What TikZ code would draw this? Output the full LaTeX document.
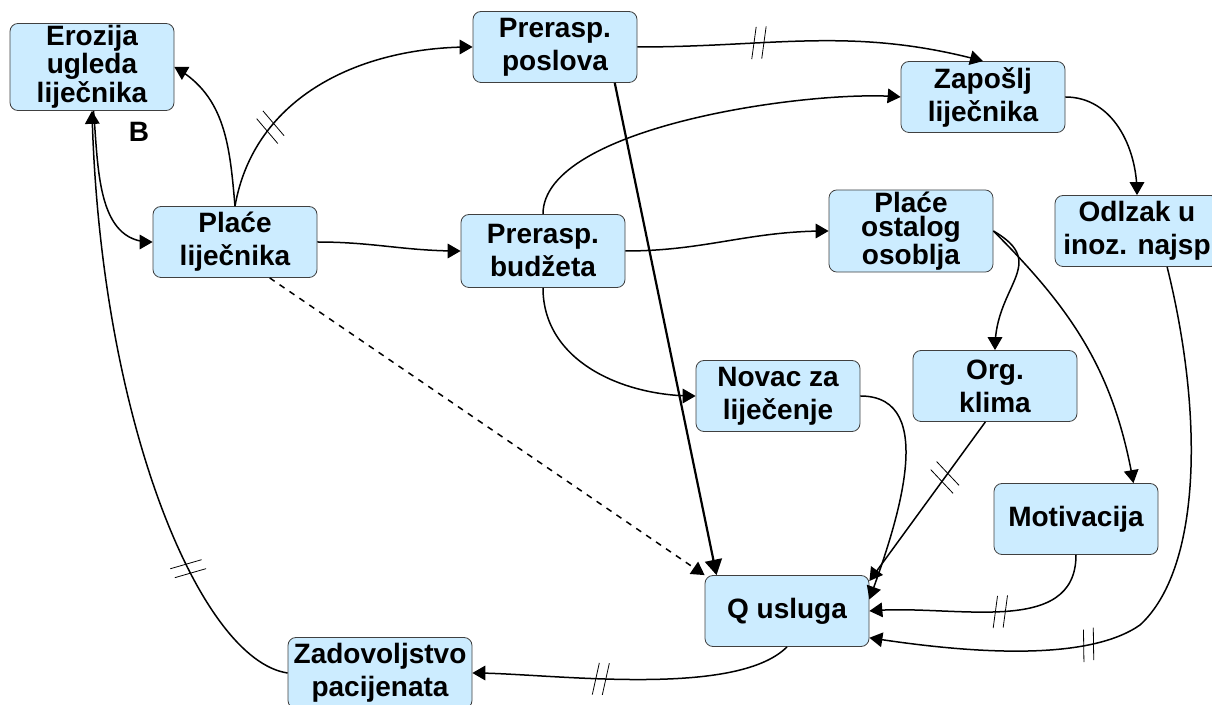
\documentclass[tikz,border=0pt]{standalone}
\usepackage{fontspec}
\setmainfont{Liberation Sans}
\usetikzlibrary{arrows,decorations.markings}
\definecolor{boxblue}{RGB}{204,236,255}

\begin{document}
\begin{tikzpicture}[x = 0.5pt, y = -0.5pt, >= triangle 60, line width = 0.75pt,
	box/.style = {draw = black!75, thin, fill = boxblue, rounded corners = 4pt, align = center,
		minimum width = 82pt, minimum height = 35.5pt, inner sep = 1pt,
		font = \bfseries\fontsize{14}{16.5}\selectfont},
	tight/.style = {font = \bfseries\fontsize{14}{11.8}\selectfont},
	delay/.style = {postaction = {decorate, decoration = {markings, mark = at position #1 with
		{\draw[line width = 0.4pt, -] (-4pt,-8pt) -- (-1pt,8pt) (1pt,-8pt) -- (4pt,8pt);}}}}]

	\useasboundingbox (0,0) rectangle (1212,705);

	\node (E)  at (  92,  67) [box, tight] {Erozija\\ugleda\\liječnika};
	\node (B)  at ( 139, 132) [font = \bfseries\fontsize{14}{14}\selectfont] {B};
	\node (PL) at ( 235, 242) [box] {Plaće\\liječnika};
	\node (PP) at ( 555,  47) [box] {Prerasp.\\poslova};
	\node (ZL) at ( 983,  97) [box] {Zapošlj\\liječnika};
	\node (PB) at ( 543, 251) [box, minimum height = 36.5pt] {Prerasp.\\budžeta};
	\node (PO) at ( 911, 231) [box, tight] {Plaće\\ostalog\\osoblja};
	\node (OI) at (1137, 231) [box] {Odlzak u\\inoz. najsp};
	\node (NL) at ( 778, 396) [box] {Novac za\\liječenje};
	\node (OK) at ( 995, 386) [box] {Org.\\klima};
	\node (M)  at (1076, 519) [box] {Motivacija};
	\node (Q)  at ( 787, 611) [box] {Q usluga};
	\node (ZP) at ( 380, 673) [box, minimum width = 92pt] {Zadovoljstvo\\pacijenata};

	\foreach \from/\o/\i/\to in {PL.north/95/-30/E.east, E.-88/-85/180/PL.west, PL.east/0/180/PB.west,
	PB.east/0/180/PO.west, PB.south/-90/180/NL.west, ZL.east/0/90/OI.north, NL.east/0/70/Q.8}
		\path (\from) edge [->, out = \o, in = \i] (\to);
	\path (PB.north) edge [->, out = 90, in = 175, looseness = 0.6] (ZL.west);

	% links with delay
	\draw [->, delay = 0.28] (PL.north) to [out = 80, in = 180] (PP.west);
	\draw [->, delay = 0.35] (PP.east) to [out = 0, in = 165] (ZL.north);
	\draw [->, delay = 0.35] (OK.-105) -- (Q.20);
	\draw [->, delay = 0.45] (M.south) to [out = -90, in = 5] (Q.east);
	\draw [->, delay = 0.6] (Q.south) to [out = -135, in = 0, looseness = 0.6] (ZP.east);
	\draw [->, delay = 0.66] (OI.-50) .. controls (1205,420) and (1200,570) .. (1140,625)
		.. controls (1090,660) and (980,655) .. (Q.-18);
	\draw [->, delay = 0.24] (ZP.west) .. controls (200,660) and (100,420) .. (E.south);

	\draw [->, line width = 1.1pt] (PP.-31) -- (Q.153);
	\draw [->, dashed] (PL.-46) -- (Q.north west);
	\draw [->] (PO.east) to [out = -30, in = 90, looseness = 1.4] (OK.north);
	\draw [->] (PO.east) to [out = -45, in = 100] (M.32);

\end{tikzpicture}
\end{document}
